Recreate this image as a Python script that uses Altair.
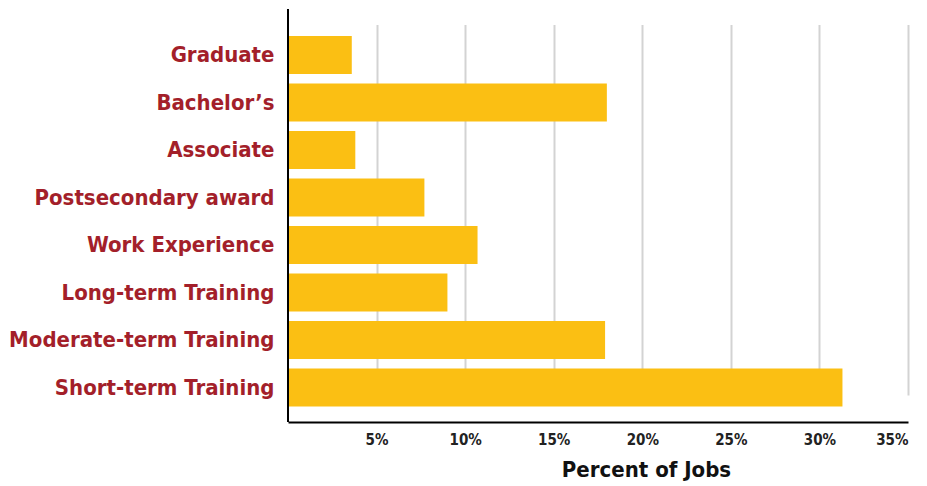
import altair as alt
import pandas as pd

categories = [
    "Graduate",
    "Bachelor\u2019s",
    "Associate",
    "Postsecondary award",
    "Work Experience",
    "Long-term Training",
    "Moderate-term Training",
    "Short-term Training",
]
percents = [3.6, 18.0, 3.8, 7.7, 10.7, 9.0, 17.9, 31.3]
tick_values = [5, 10, 15, 20, 25, 30, 35]

df = pd.DataFrame({"category": categories, "percent": percents})

FONT = "DejaVu Sans Condensed"
W, H = 620, 413

bars = (
    alt.Chart(df)
    .mark_bar(color="#FBBF13")
    .encode(
        x=alt.X(
            "percent:Q",
            scale=alt.Scale(domain=[0, 35], nice=False),
            axis=alt.Axis(
                values=tick_values,
                labelExpr="datum.value + '%'",
                title="Percent of Jobs",
                titleFont=FONT,
                titleFontSize=22,
                titleFontWeight="bold",
                titleColor="#111111",
                titleX=358,
                titlePadding=12,
                labelFont=FONT,
                labelFontSize=15,
                labelFontWeight="bold",
                labelColor="#222222",
                labelPadding=10,
                ticks=False,
                domainColor="#000000",
                domainWidth=2,
                grid=True,
                gridColor="#d3d3d3",
                gridWidth=2,
            ),
        ),
        y=alt.Y(
            "category:N",
            sort=categories,
            scale=alt.Scale(range=[27, 397.5], paddingInner=0.2, paddingOuter=0),
            axis=alt.Axis(
                title=None,
                labelFont=FONT,
                labelFontSize=22,
                labelFontWeight="bold",
                labelColor="#A31F2A",
                labelPadding=14,
                ticks=False,
                domain=False,
                grid=False,
                labelLimit=400,
            ),
        ),
    )
)

yline = (
    alt.Chart(pd.DataFrame({"k": [0]}))
    .mark_rule(color="#000000", strokeWidth=2)
    .encode(x=alt.value(0), y=alt.value(0), y2=alt.value(H))
)

chart = (
    alt.layer(bars, yline)
    .properties(
        width=W,
        height=H,
        background="white",
        padding={"left": 0, "top": 0, "right": 5, "bottom": 5},
    )
    .configure_view(stroke=None, strokeWidth=0)
)

chart.save("out.html", embed_options={"renderer": "svg", "actions": False})
